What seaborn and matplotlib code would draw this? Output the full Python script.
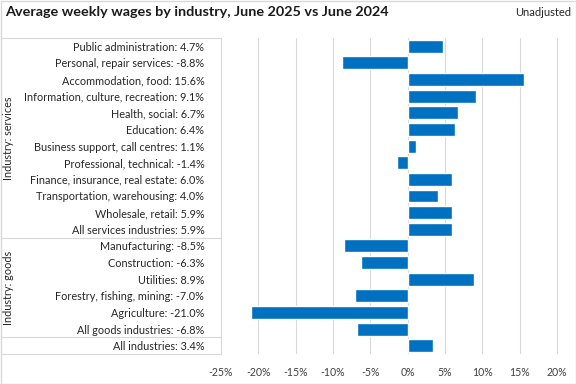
import pandas as pd
import matplotlib.pyplot as plt
import seaborn as sns
from matplotlib.patches import Rectangle

# Data (% change, June 2025 vs June 2024)
industries = [
    "Public administration", "Personal, repair services", "Accommodation, food",
    "Information, culture, recreation", "Health, social", "Education",
    "Business support, call centres", "Professional, technical",
    "Finance, insurance, real estate", "Transportation, warehousing",
    "Wholesale, retail", "All services industries",
    "Manufacturing", "Construction", "Utilities", "Forestry, fishing, mining",
    "Agriculture", "All goods industries", "All industries",
]
changes = [4.7, -8.8, 15.6, 9.1, 6.7, 6.4, 1.1, -1.4, 6.0, 4.0, 5.9, 5.9,
           -8.5, -6.3, 8.9, -7.0, -21.0, -6.8, 3.4]
groups = ["Industry: services"] * 12 + ["Industry: goods"] * 6 + [""]
x_ticks = [-25, -20, -15, -10, -5, 0, 5, 10, 15, 20]

df = pd.DataFrame({"industry": industries, "change": changes, "group": groups})
df["label"] = [f"{n}: {v:.1f}%" for n, v in zip(df["industry"], df["change"])]

sns.set_theme(style="white")
plt.rcParams["font.family"] = ["Lato", "DejaVu Sans"]

fig = plt.figure(figsize=(5.76, 3.84), dpi=100)
ax = fig.add_axes([221 / 576, 30 / 384, 344 / 576, 316 / 384])

sns.barplot(data=df, y="label", x="change", orient="h", color="#0070C0",
            saturation=1, width=0.78, ax=ax)

ax.set_xlim(-25, 21.07)
ax.set_ylim(len(df) - 0.5, -0.5)
ax.set_xticks(x_ticks)
ax.set_xticklabels([f"{t}%" for t in x_ticks], fontsize=7.6, color="#404040")
ax.tick_params(axis="x", length=0, pad=9)
ax.tick_params(axis="y", length=0, pad=12, labelsize=7.8, labelcolor="#262626")
ax.set_xlabel("")
ax.set_ylabel("")

# vertical gridlines (skip the one at the left edge)
for t in x_ticks[1:]:
    ax.axvline(t, color="#d9d9d9", lw=0.8, zorder=0)

for s in ["top", "right", "bottom"]:
    ax.spines[s].set_visible(False)
ax.spines["left"].set_color("#d9d9d9")
ax.spines["left"].set_linewidth(0.8)

# label table lines
left = -220 / 344
tr = ax.get_yaxis_transform()
for y in [-0.5, 11.5, 17.5, 18.5]:
    ax.plot([left, 0], [y, y], transform=tr, color="#d9d9d9", lw=0.8, clip_on=False)

# group labels
for g in ["Industry: services", "Industry: goods"]:
    idx = df.index[df["group"] == g]
    ymid = (idx.min() + idx.max()) / 2
    ax.text(left + 8 / 344, ymid, g, transform=tr, rotation=90, ha="center",
            va="center", fontsize=7.8, color="#262626")

fig.text(5 / 576, 1 - 12 / 384, "Average weekly wages by industry, June 2025 vs June 2024",
         fontsize=10.4, fontweight="bold", va="center", ha="left", color="#1a1a1a")
fig.text(571 / 576, 1 - 12 / 384, "Unadjusted", fontsize=8, va="center", ha="right",
         color="#262626")

fig.add_artist(Rectangle((0.5 / 576, 0.5 / 384), 575 / 576, 383 / 384,
                         transform=fig.transFigure, fill=False,
                         edgecolor="#d9d9d9", lw=1))

fig.savefig("out.png", dpi=100)
